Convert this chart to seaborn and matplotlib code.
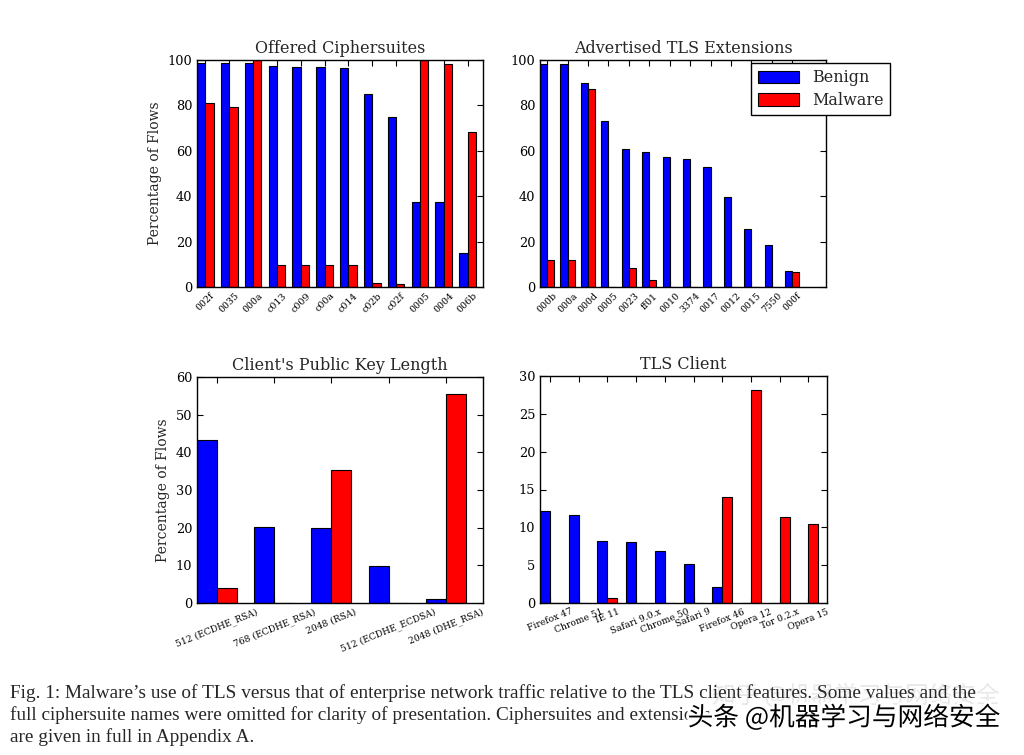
import matplotlib
matplotlib.use("Agg")
import matplotlib.pyplot as plt
import matplotlib.patheffects as pe
import seaborn as sns
import pandas as pd
import numpy as np

# ---------------- data ----------------
cs_labels = ["002f", "0035", "000a", "c013", "c009", "c00a", "c014", "c02b", "c02f", "0005", "0004", "006b"]
cs_benign = [98.8, 98.5, 98.5, 97.5, 97.0, 97.0, 96.3, 84.9, 74.7, 37.5, 37.5, 15.0]
cs_malware = [80.9, 79.4, 100.0, 9.7, 9.7, 9.7, 9.7, 1.9, 1.5, 100.0, 98.1, 68.4]

ext_labels = ["000b", "000a", "000d", "0005", "0023", "ff01", "0010", "3374", "0017", "0012", "0015", "7550", "000f"]
ext_benign = [98.1, 98.1, 90.0, 73.2, 60.9, 59.6, 57.4, 56.2, 52.9, 39.7, 25.4, 18.7, 7.1]
ext_malware = [12.1, 12.1, 87.2, 0.2, 8.4, 3.2, 0.0, 0.2, 0.0, 0.1, 0.2, 0.0, 6.5]

key_labels = ["512 (ECDHE_RSA)", "768 (ECDHE_RSA)", "2048 (RSA)", "512 (ECDHE_ECDSA)", "2048 (DHE_RSA)"]
key_benign = [43.2, 20.3, 19.9, 9.7, 1.1]
key_malware = [4.1, 0.1, 35.3, 0.1, 55.4]

cl_labels = ["Firefox 47", "Chrome 51", "IE 11", "Safari 9.0.x", "Chrome 50", "Safari 9",
             "Firefox 46", "Opera 12", "Tor 0.2.x", "Opera 15"]
cl_benign = [12.1, 11.6, 8.25, 8.0, 6.9, 5.1, 2.1, 0.0, 0.0, 0.0]
cl_malware = [0.0, 0.0, 0.6, 0.0, 0.0, 0.0, 14.0, 28.1, 11.4, 10.4]

groups = ["Benign", "Malware"]
colors = ["#0000ff", "#ff0000"]

caption = [
    "Fig. 1: Malware\u2019s use of TLS versus that of enterprise network traffic relative to the TLS client features. Some values and the",
    "full ciphersuite names were omitted for clarity of presentation. Ciphersuites and extensions",
    "are given in full in Appendix A.",
]

# ---------------- style ----------------
sns.set_style("ticks")
plt.rcParams.update({
    "font.family": ["DejaVu Serif"],
    "xtick.direction": "in",
    "ytick.direction": "in",
    "xtick.top": True,
    "ytick.right": True,
    "xtick.major.size": 4,
    "ytick.major.size": 4,
    "axes.linewidth": 1.0,
    "axes.edgecolor": "black",
    "xtick.color": "black",
    "ytick.color": "black",
})

fig = plt.figure(figsize=(10.24, 7.55), dpi=100)

W, H = 1024.0, 755.0
def add_ax(l, r, t, b):
    return fig.add_axes([l / W, 1 - b / H, (r - l) / W, (b - t) / H])

ax_tl = add_ax(197, 483, 60, 287)
ax_tr = add_ax(540, 826, 60, 287)
ax_bl = add_ax(197, 483, 377, 603)
ax_br = add_ax(540, 827, 376, 603)


def draw(ax, cats, benign, malware, ngroups, title, yticks, rot, xfs, ylabel=None):
    n = len(cats)
    df = pd.DataFrame({
        "cat": cats * 2,
        "val": benign + malware,
        "grp": ["Benign"] * n + ["Malware"] * n,
    })
    sns.barplot(data=df, x="cat", y="val", hue="grp", order=cats, hue_order=groups,
                palette=colors, saturation=1, width=0.7, dodge=True,
                edgecolor="black", linewidth=0.8, errorbar=None, ax=ax, legend=False)
    ax.set_xlim(-0.35, ngroups - 0.35)
    ax.set_ylim(yticks[0], yticks[-1])
    ax.set_yticks(yticks)
    ax.tick_params(axis="y", labelsize=9.3)
    ax.set_xticks(range(n))
    ax.set_xticklabels(cats, rotation=rot, fontsize=xfs, ha="center")
    ax.tick_params(axis="x", pad=3)
    ax.set_xlabel("")
    ax.set_ylabel(ylabel if ylabel else "", fontsize=10)
    ax.set_title(title, fontsize=11.5, pad=5)
    for s in ax.spines.values():
        s.set_visible(True)


draw(ax_tl, cs_labels, cs_benign, cs_malware, 12, "Offered Ciphersuites",
     [0, 20, 40, 60, 80, 100], 45, 6.8, "Percentage of Flows")
draw(ax_tr, ext_labels, ext_benign, ext_malware, 14, "Advertised TLS Extensions",
     [0, 20, 40, 60, 80, 100], 45, 6.8)
draw(ax_bl, key_labels, key_benign, key_malware, 5, "Client's Public Key Length",
     [0, 10, 20, 30, 40, 50, 60], 22, 6.6, "Percentage of Flows")
draw(ax_br, cl_labels, cl_benign, cl_malware, 10, "TLS Client",
     [0, 5, 10, 15, 20, 25, 30], 22, 6.6)

# legend
handles = [plt.Rectangle((0, 0), 1, 1, facecolor=c, edgecolor="black", linewidth=0.8) for c in colors]
leg = ax_tr.legend(handles, groups, loc="upper right", bbox_to_anchor=(890 / W, 1 - 63 / H),
                   bbox_transform=fig.transFigure, borderaxespad=0, fontsize=11.5,
                   fancybox=False, frameon=True, handlelength=2.6, handleheight=0.8,
                   labelspacing=0.35, borderpad=0.4, handletextpad=0.8)
leg.get_frame().set_edgecolor("black")
leg.get_frame().set_linewidth(1.0)
leg.get_frame().set_alpha(1)

# caption
for i, line in enumerate(caption):
    fig.text(10 / W, 1 - (693 + 22 * i) / H, line, fontsize=13.9, family="Liberation Serif",
             ha="left", va="center")

# watermarks
fig.text(1000 / W, 1 - 695 / H, "知乎 @机器学习与网络安全", fontsize=17,
         family=["Noto Sans CJK SC", "DejaVu Sans"], color="#e8e8e8", ha="right", va="center",
         zorder=0)
fig.text(1001 / W, 1 - 718 / H, "头条 @机器学习与网络安全", fontsize=18.5,
         family=["Noto Sans CJK SC", "DejaVu Sans"], color="black", ha="right", va="center",
         path_effects=[pe.withStroke(linewidth=4, foreground="white")])

fig.savefig("out.png", dpi=100)
